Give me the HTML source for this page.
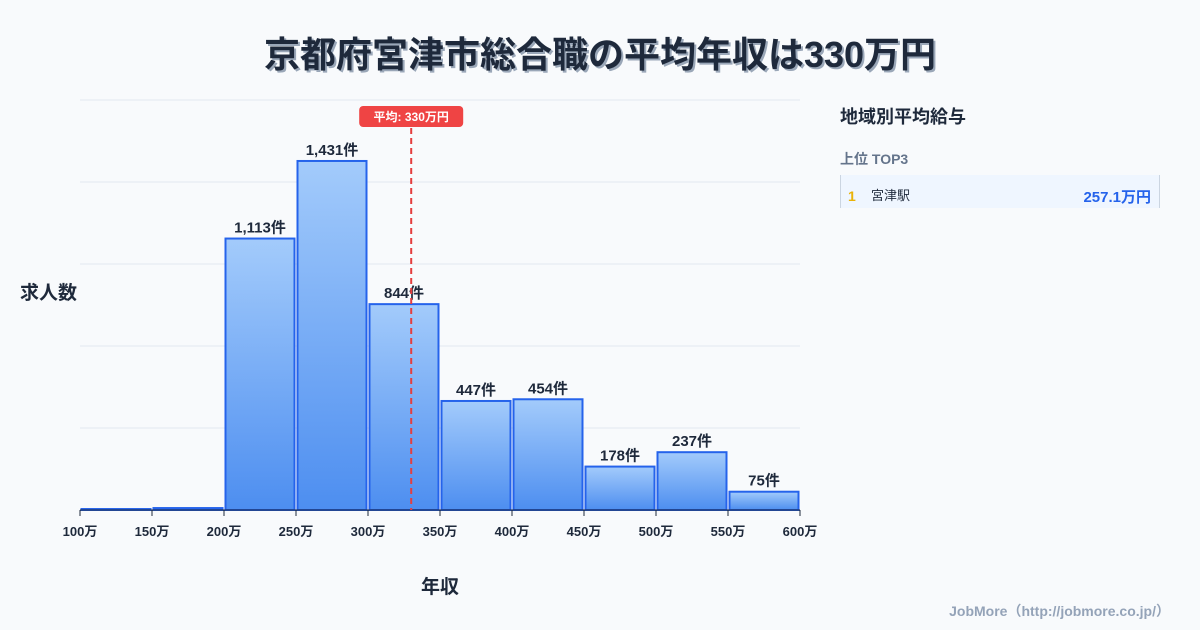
<!DOCTYPE html>
<html><head><meta charset="utf-8">
<style>
body{margin:0;background:#f8fafc;font-family:"Liberation Sans","Noto Sans CJK JP",sans-serif;}
#wrap{position:relative;width:1200px;height:630px;overflow:hidden;background:#f8fafc;}
</style></head><body>
<div id="wrap">
<svg id="chart" width="1200" height="630" style="position:absolute;left:0;top:0">
<defs><linearGradient id="g" x1="0" y1="0" x2="0" y2="1"><stop offset="0" stop-color="#a3cbfb"/><stop offset="1" stop-color="#4d8ef0"/></linearGradient></defs>
<text x="600" y="67" text-anchor="middle" font-size="36" font-weight="bold" fill="#9aa7b8" transform="translate(2,2)">京都府宮津市総合職の平均年収は330万円</text>
<text x="600" y="67" text-anchor="middle" font-size="36" font-weight="bold" fill="#1e293b">京都府宮津市総合職の平均年収は330万円</text>
<text x="20" y="299" font-size="19" font-weight="bold" fill="#1e293b">求人数</text>
<text x="440" y="593" text-anchor="middle" font-size="19" font-weight="bold" fill="#1e293b">年収</text>
<g id="grid"></g><g id="bars"></g><g id="xt"></g><g id="avg"></g>
<text x="840" y="123" font-size="18" font-weight="bold" fill="#1e293b">地域別平均給与</text>
<text x="840" y="164" font-size="14" font-weight="bold" fill="#64748b">上位 TOP3</text>
<rect x="840" y="175" width="320" height="33" fill="#eff6ff"/>
<line x1="840.5" y1="175" x2="840.5" y2="208" stroke="#cbd5e1"/><line x1="1159.5" y1="175" x2="1159.5" y2="208" stroke="#cbd5e1"/>
<text x="848" y="201" font-size="14" font-weight="bold" fill="#eab308">1</text>
<text x="871" y="200" font-size="13" fill="#1e293b">宮津駅</text>
<text x="1151" y="202" text-anchor="end" font-size="15" font-weight="bold" fill="#2563eb">257.1万円</text>
<text x="1170" y="616" text-anchor="end" font-size="14" font-weight="bold" fill="#94a3b8">JobMore（http://jobmore.co.jp/）</text>
</svg>
</div>
<script>
const categories=["100","150","200","250","300","350","400","450","500","550"];
const counts=[4,8,1113,1431,844,447,454,178,237,75];
const tickLabels=["100万","150万","200万","250万","300万","350万","400万","450万","500万","550万","600万"];
const avgValue=330;
const ns="http://www.w3.org/2000/svg";
const X0=80,X1=800,Y0=510,Y1=100,xMin=100,xMax=600,yMax=1681;
const sx=v=>X0+(v-xMin)/(xMax-xMin)*(X1-X0);
const sy=v=>Y0-v/yMax*(Y0-Y1);
function mk(t,a,p){const e=document.createElementNS(ns,t);for(const k in a)e.setAttribute(k,a[k]);p.appendChild(e);return e;}
const grid=document.getElementById('grid');
for(let i=0;i<=5;i++){const y=Y0-i*(Y0-Y1)/5;const l=mk('line',{x1:X0,x2:X1,y1:y,y2:y,stroke:'#e2e8f0'},grid);

}
const bars=document.getElementById('bars');
counts.forEach((c,i)=>{const lo=+categories[i];const x=sx(lo)+1.5,w=sx(lo+50)-sx(lo)-3,y=sy(c);
const r=mk('rect',{x:x,y:y,width:w,height:Y0-y,fill:'url(#g)',stroke:'#2563eb','stroke-width':2},bars);


if(c>50){const t=mk('text',{x:x+w/2,y:y-6,'text-anchor':'middle','font-size':15,'font-weight':'bold',fill:'#1e293b'},bars);t.textContent=c.toLocaleString()+'件';

}});
mk('line',{x1:X0,x2:X1,y1:Y0,y2:Y0,stroke:'#1e293b'},bars);
const xt=document.getElementById('xt');
tickLabels.forEach((s,i)=>{const x=sx(xMin+i*50);mk('line',{x1:x,x2:x,y1:Y0,y2:Y0+6,stroke:'#1e293b'},xt);
const t=mk('text',{x:x,y:536,'text-anchor':'middle','font-size':13,'font-weight':'bold',fill:'#1e293b'},xt);t.textContent=s;

});
const av=document.getElementById('avg');const ax=sx(avgValue);
const al=mk('line',{x1:ax,x2:ax,y1:128,y2:Y0,stroke:'#e53e3e','stroke-width':2,'stroke-dasharray':'6,4'},av);


const ab=mk('rect',{x:ax-52,y:106,width:104,height:21,rx:4,fill:'#ef4444'},av);


const at=mk('text',{x:ax,y:121,'text-anchor':'middle','font-size':12,'font-weight':'bold',fill:'#fff'},av);at.textContent='平均: '+avgValue+'万円';


</script>
</body></html>
